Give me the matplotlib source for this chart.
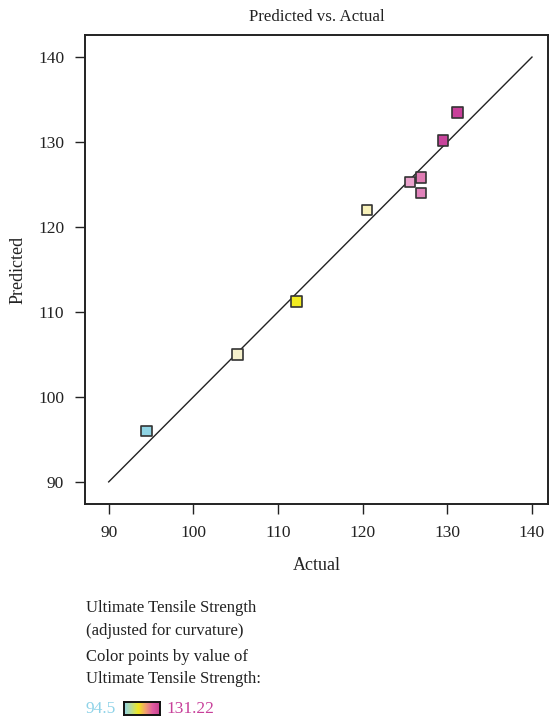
import numpy as np
import matplotlib
matplotlib.use("Agg")
import matplotlib.pyplot as plt
from matplotlib.colors import LinearSegmentedColormap

plt.rcParams['font.family'] = ['Liberation Serif', 'DejaVu Serif']

# Actual vs predicted ultimate tensile strength
actual = [94.5, 105.25, 112.2, 120.5, 125.6, 126.9, 126.9, 129.5, 131.22]
predicted = [96.0, 105.0, 111.2, 122.0, 125.3, 125.8, 124.0, 130.2, 133.5]
point_colors = ['#8fd4e4', '#f6f1cc', '#f2ec22', '#f8f2ba', '#eaa2cc',
                '#e07cb4', '#e082ba', '#c8449c', '#c8409a']
ticks = [90, 100, 110, 120, 130, 140]
bar_min, bar_max = "94.5", "131.22"
gradient_colors = ['#8fd3e8', '#b8dd98', '#f0e81e', '#f2a070', '#e05ca2', '#c8408f']

fig = plt.figure(figsize=(5.5, 7.24), dpi=100)
ax = fig.add_axes([0.1545, 0.3039, 0.842, 0.6478])

ax.plot([90, 140], [90, 140], color='#222222', lw=1.0, zorder=2)
ax.scatter(actual, predicted, marker='s', s=60, c=point_colors,
           edgecolors='#333333', linewidths=1.2, zorder=3)

ax.set_xlim(87.2, 141.9)
ax.set_ylim(87.4, 142.6)
ax.set_xticks(ticks)
ax.set_yticks(ticks)
ax.tick_params(direction='out', length=7, width=1.0, labelsize=12.5,
               colors='#222222', pad=8)
for s in ax.spines.values():
    s.set_linewidth(1.4)
    s.set_color('#222222')

ax.set_xlabel('Actual', fontsize=13, labelpad=12, color='#222222')
ax.set_ylabel('Predicted', fontsize=13, labelpad=8, color='#222222')
ax.set_title('Predicted vs. Actual', fontsize=12.2, pad=10, color='#222222')

# Legend text below the plot
x0 = 86 / 550
txt = dict(fontsize=12, color='#222222', ha='left', va='center')
fig.text(x0, 1 - 608 / 724, 'Ultimate Tensile Strength', **txt)
fig.text(x0, 1 - 631 / 724, '(adjusted for curvature)', **txt)
fig.text(x0, 1 - 657 / 724, 'Color points by value of', **txt)
fig.text(x0, 1 - 679 / 724, 'Ultimate Tensile Strength:', **txt)
fig.text(x0, 1 - 709 / 724, bar_min, fontsize=12.5, color='#8fd3e8',
         ha='left', va='center')
fig.text(166 / 550, 1 - 709 / 724, bar_max, fontsize=12.5, color='#c8409a',
         ha='left', va='center')

cmap = LinearSegmentedColormap.from_list('uts', gradient_colors)
cax = fig.add_axes([124 / 550, 1 - 715 / 724, 36 / 550, 13 / 724])
cax.imshow(np.linspace(0, 1, 256)[None, :], aspect='auto', cmap=cmap)
cax.set_xticks([])
cax.set_yticks([])
for s in cax.spines.values():
    s.set_linewidth(1.4)
    s.set_color('#111111')

fig.savefig('out.png', dpi=100)
